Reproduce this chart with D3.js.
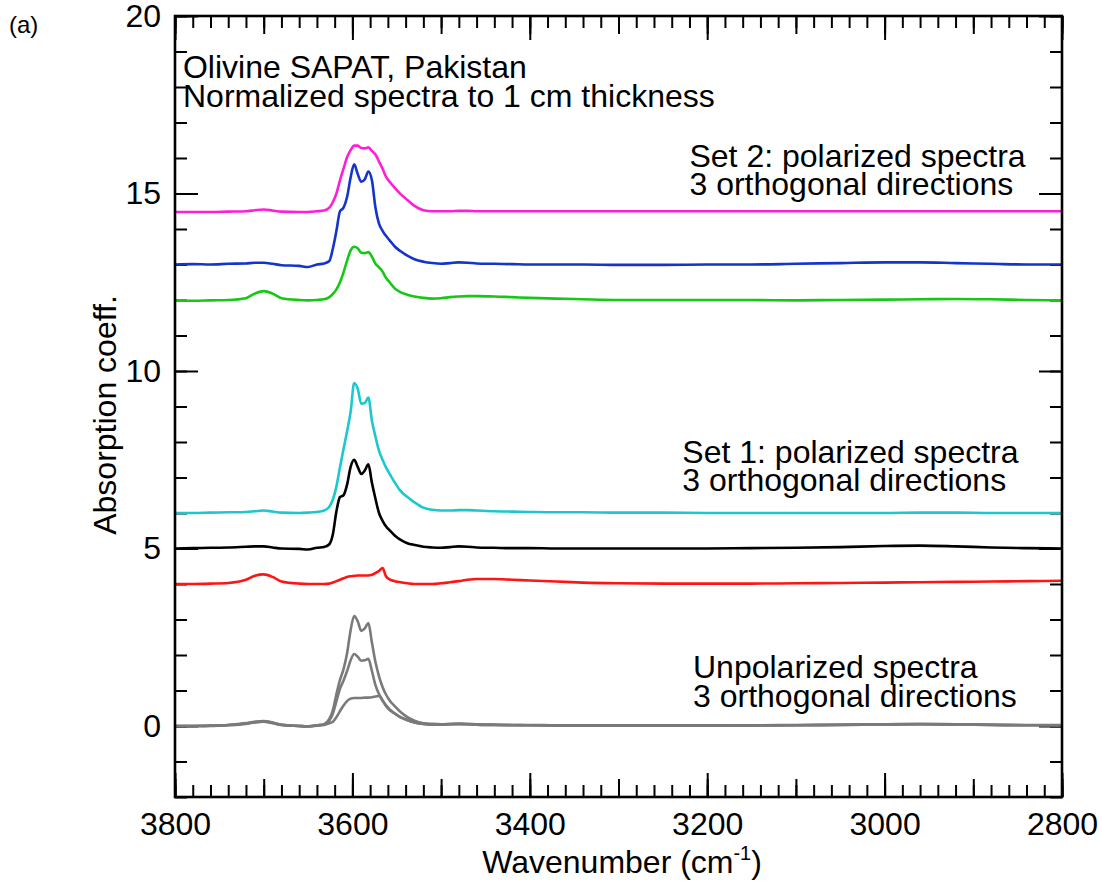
<!DOCTYPE html>
<html>
<head>
<meta charset="utf-8">
<script src="https://cdn.jsdelivr.net/npm/d3@7"></script>
<style>
  html, body { margin: 0; padding: 0; background: #fff; }
  svg { display: block; }
  text { font-family: "Liberation Sans", Arial, Helvetica, sans-serif; fill: #000; }
</style>
</head>
<body>
<svg id="chart" width="1102" height="885"></svg>
<script>
// Wavenumber grid (cm^-1), shared by all spectra
const wavenumber = [3800, 3780, 3760, 3740, 3720, 3710, 3700, 3690, 3680, 3660,
  3650, 3640, 3632, 3626, 3622, 3618, 3614, 3610, 3606, 3602,
  3598, 3594, 3590, 3586, 3582, 3578, 3574, 3570, 3566, 3562,
  3558, 3552, 3546, 3538, 3530, 3520, 3510, 3500, 3490, 3480,
  3470, 3460, 3440, 3420, 3400, 3370, 3340, 3300, 3250, 3200,
  3150, 3100, 3050, 3000, 2960, 2920, 2880, 2840, 2800];

// Unpolarized spectra, 3 orthogonal directions
const unpolA = [0.00, 0.00, 0.01, 0.03, 0.08, 0.12, 0.14, 0.10, 0.04, 0.00,
  -0.01, 0.02, 0.05, 0.20, 0.45, 0.90, 1.30, 1.60, 2.05, 2.70,
  3.10, 2.95, 2.68, 2.75, 2.90, 2.35, 1.80, 1.40, 1.10, 0.88,
  0.72, 0.55, 0.40, 0.25, 0.15, 0.08, 0.06, 0.05, 0.06, 0.07,
  0.06, 0.05, 0.04, 0.03, 0.03, 0.02, 0.02, 0.02, 0.02, 0.02,
  0.02, 0.03, 0.04, 0.05, 0.06, 0.05, 0.04, 0.03, 0.03];
const unpolB = [0.00, 0.00, 0.01, 0.03, 0.07, 0.11, 0.13, 0.09, 0.03, 0.00,
  -0.01, 0.02, 0.04, 0.15, 0.35, 0.70, 1.05, 1.28, 1.55, 1.85,
  2.03, 1.95, 1.84, 1.85, 1.89, 1.55, 1.15, 0.90, 0.72, 0.58,
  0.47, 0.35, 0.25, 0.16, 0.10, 0.06, 0.04, 0.04, 0.05, 0.06,
  0.05, 0.04, 0.03, 0.03, 0.02, 0.02, 0.01, 0.01, 0.01, 0.01,
  0.02, 0.02, 0.03, 0.04, 0.05, 0.04, 0.03, 0.02, 0.02];
const unpolC = [0.00, 0.00, 0.00, 0.02, 0.06, 0.10, 0.12, 0.08, 0.03, 0.00,
  -0.01, 0.01, 0.03, 0.08, 0.12, 0.25, 0.42, 0.58, 0.70, 0.77,
  0.79, 0.79, 0.79, 0.80, 0.80, 0.81, 0.83, 0.85, 0.72, 0.56,
  0.45, 0.34, 0.25, 0.17, 0.10, 0.06, 0.04, 0.04, 0.05, 0.05,
  0.05, 0.04, 0.03, 0.02, 0.02, 0.01, 0.01, 0.01, 0.01, 0.01,
  0.01, 0.02, 0.03, 0.04, 0.05, 0.04, 0.03, 0.02, 0.02];

// Set 1: polarized spectra (offset to 4, 5 and 6)
const set1Red = [4.00, 4.00, 4.01, 4.03, 4.12, 4.23, 4.27, 4.20, 4.07, 4.01,
  4.00, 4.00, 4.00, 4.01, 4.04, 4.08, 4.12, 4.16, 4.20, 4.22,
  4.23, 4.24, 4.24, 4.24, 4.24, 4.26, 4.31, 4.37, 4.45, 4.21,
  4.13, 4.08, 4.05, 4.02, 4.00, 4.00, 4.00, 4.02, 4.05, 4.08,
  4.12, 4.14, 4.14, 4.12, 4.10, 4.07, 4.04, 4.02, 4.01, 4.01,
  4.01, 4.02, 4.03, 4.04, 4.05, 4.06, 4.07, 4.08, 4.09];
const set1Black = [5.00, 5.01, 5.02, 5.03, 5.05, 5.06, 5.06, 5.03, 5.00, 4.99,
  4.97, 5.02, 5.04, 5.12, 5.40, 6.05, 6.45, 6.50, 6.80, 7.30,
  7.50, 7.30, 7.10, 7.20, 7.37, 6.85, 6.40, 6.00, 5.78, 5.62,
  5.51, 5.36, 5.25, 5.15, 5.10, 5.05, 5.03, 5.02, 5.04, 5.06,
  5.05, 5.03, 5.02, 5.01, 5.01, 5.00, 5.00, 5.00, 5.00, 5.00,
  5.01, 5.02, 5.04, 5.07, 5.08, 5.06, 5.03, 5.01, 5.00];
const set1Cyan = [6.00, 6.00, 6.01, 6.02, 6.03, 6.05, 6.07, 6.04, 6.01, 6.00,
  6.01, 6.03, 6.07, 6.18, 6.38, 6.75, 7.29, 7.80, 8.30, 8.85,
  9.66, 9.50, 9.08, 9.10, 9.25, 8.60, 8.15, 7.75, 7.50, 7.28,
  7.10, 6.85, 6.63, 6.45, 6.30, 6.15, 6.09, 6.07, 6.07, 6.08,
  6.08, 6.07, 6.05, 6.04, 6.03, 6.02, 6.02, 6.01, 6.01, 6.00,
  6.00, 6.00, 6.00, 6.00, 6.01, 6.01, 6.00, 6.00, 6.00];

// Set 2: polarized spectra (offset to 12, 13 and 14.5)
const set2Green = [11.98, 11.98, 11.99, 12.00, 12.05, 12.18, 12.25, 12.18, 12.05, 12.00,
  11.99, 12.00, 12.02, 12.08, 12.17, 12.30, 12.50, 12.78, 13.11, 13.40,
  13.50, 13.46, 13.33, 13.32, 13.35, 13.22, 13.02, 12.92, 12.80, 12.62,
  12.50, 12.32, 12.22, 12.15, 12.10, 12.06, 12.04, 12.05, 12.08, 12.10,
  12.11, 12.11, 12.10, 12.08, 12.06, 12.04, 12.02, 12.00, 12.00, 12.00,
  12.00, 11.99, 12.00, 12.01, 12.02, 12.03, 12.02, 12.00, 11.99];
const set2Blue = [13.00, 13.01, 13.00, 13.02, 13.03, 13.05, 13.05, 13.02, 12.98, 12.96,
  12.93, 13.00, 13.03, 13.10, 13.45, 13.95, 14.50, 14.60, 14.90, 15.45,
  15.82, 15.55, 15.33, 15.40, 15.62, 15.37, 14.60, 14.15, 13.95, 13.80,
  13.68, 13.50, 13.38, 13.25, 13.15, 13.08, 13.04, 13.02, 13.04, 13.06,
  13.05, 13.03, 13.02, 13.01, 13.00, 13.00, 13.00, 12.99, 12.99, 13.00,
  13.00, 13.02, 13.04, 13.06, 13.06, 13.04, 13.02, 13.00, 13.00];
const set2Magenta = [14.48, 14.48, 14.48, 14.49, 14.50, 14.53, 14.55, 14.52, 14.49, 14.48,
  14.48, 14.50, 14.52, 14.60, 14.76, 15.00, 15.37, 15.70, 16.02, 16.22,
  16.35, 16.35, 16.28, 16.27, 16.30, 16.20, 16.10, 15.90, 15.70, 15.47,
  15.33, 15.15, 14.99, 14.82, 14.65, 14.53, 14.50, 14.50, 14.50, 14.51,
  14.51, 14.50, 14.50, 14.50, 14.50, 14.50, 14.50, 14.50, 14.50, 14.50,
  14.50, 14.50, 14.50, 14.50, 14.50, 14.50, 14.50, 14.50, 14.50];

// Axis ticks
const xMajorTicks = [3800, 3600, 3400, 3200, 3000, 2800];
const yMajorTicks = [0, 5, 10, 15, 20];

// Annotation text blocks, anchored in data coordinates (wavenumber, absorption)
const notes = [
  { lines: ["Olivine SAPAT, Pakistan", "Normalized spectra to 1 cm thickness"], wn: 3791, v: 18.25 },
  { lines: ["Set 2: polarized spectra", "3 orthogonal directions"], wn: 3220, v: 15.75 },
  { lines: ["Set 1: polarized spectra", "3 orthogonal directions"], wn: 3228, v: 7.41 },
  { lines: ["Unpolarized spectra", "3 orthogonal directions"], wn: 3216, v: 1.35 }
];

const series = [
  { values: unpolA, color: "#7a7a7a" },
  { values: unpolB, color: "#7a7a7a" },
  { values: unpolC, color: "#7a7a7a" },
  { values: set1Red, color: "#ff1414" },
  { values: set1Black, color: "#000000" },
  { values: set1Cyan, color: "#1cc8cc" },
  { values: set2Green, color: "#14c814" },
  { values: set2Blue, color: "#1434cc" },
  { values: set2Magenta, color: "#ff1ed6" }
];

const plotLeft = 175, plotRight = 1062, plotTop = 16, plotBottom = 797;
const svg = d3.select("#chart");

const x = d3.scaleLinear().domain([3800, 2800]).range([plotLeft, plotRight]);
const y = d3.scaleLinear().domain([-2, 20]).range([plotBottom, plotTop]);

const fontSize = 32;

// Tick sets: minor every 20, mid every 100, major every 200 on x; minor 1, major 5 on y
const xMinor = d3.range(3800, 2799, -20);
const xMid = d3.range(3800, 2799, -100);
const yMinor = d3.range(-2, 20.01, 1);

function styleAxis(g) {
  g.select(".domain").remove();
  g.selectAll(".tick line").attr("stroke", "#000").attr("stroke-width", 2);
  g.selectAll(".tick text").attr("font-size", fontSize)
    .style("font-family", "'Liberation Sans', Arial, Helvetica, sans-serif").attr("fill", "#000");
}

// Bottom axis
svg.append("g").attr("transform", `translate(0,${plotBottom})`)
  .call(d3.axisBottom(x).tickValues(xMinor).tickSize(-12).tickFormat("")).call(styleAxis);
svg.append("g").attr("transform", `translate(0,${plotBottom})`)
  .call(d3.axisBottom(x).tickValues(xMid).tickSize(-18).tickFormat("")).call(styleAxis);
svg.append("g").attr("transform", `translate(0,${plotBottom})`)
  .call(d3.axisBottom(x).tickValues(xMajorTicks).tickSize(-24).tickPadding(15).tickFormat(d3.format("d")))
  .call(styleAxis);

// Top axis (mirrored ticks)
svg.append("g").attr("transform", `translate(0,${plotTop})`)
  .call(d3.axisTop(x).tickValues(xMinor).tickSize(-12).tickFormat("")).call(styleAxis);
svg.append("g").attr("transform", `translate(0,${plotTop})`)
  .call(d3.axisTop(x).tickValues(xMid).tickSize(-18).tickFormat("")).call(styleAxis);
svg.append("g").attr("transform", `translate(0,${plotTop})`)
  .call(d3.axisTop(x).tickValues(xMajorTicks).tickSize(-24).tickFormat("")).call(styleAxis);

// Left axis
svg.append("g").attr("transform", `translate(${plotLeft},0)`)
  .call(d3.axisLeft(y).tickValues(yMinor).tickSize(-12).tickFormat("")).call(styleAxis);
svg.append("g").attr("transform", `translate(${plotLeft},0)`)
  .call(d3.axisLeft(y).tickValues(yMajorTicks).tickSize(-23).tickPadding(14).tickFormat(d3.format("d")))
  .call(styleAxis);

// Right axis (mirrored ticks)
svg.append("g").attr("transform", `translate(${plotRight},0)`)
  .call(d3.axisRight(y).tickValues(yMinor).tickSize(-12).tickFormat("")).call(styleAxis);
svg.append("g").attr("transform", `translate(${plotRight},0)`)
  .call(d3.axisRight(y).tickValues(yMajorTicks).tickSize(-23).tickFormat("")).call(styleAxis);

// Clip spectra to the plot frame
svg.append("defs").append("clipPath").attr("id", "plotClip")
  .append("rect").attr("x", plotLeft).attr("y", plotTop)
  .attr("width", plotRight - plotLeft).attr("height", plotBottom - plotTop);

// Spectra, drawn over the tick marks
const line = d3.line()
  .x((d, i) => x(wavenumber[i]))
  .y(d => y(d))
  .curve(d3.curveMonotoneX);

svg.append("g").attr("clip-path", "url(#plotClip)")
  .selectAll("path").data(series).join("path")
  .attr("d", s => line(s.values))
  .attr("fill", "none")
  .attr("stroke", s => s.color)
  .attr("stroke-width", 2.6)
  .attr("stroke-linejoin", "round");

// Frame
svg.append("rect")
  .attr("x", plotLeft).attr("y", plotTop)
  .attr("width", plotRight - plotLeft).attr("height", plotBottom - plotTop)
  .attr("fill", "none").attr("stroke", "#000").attr("stroke-width", 2.6);

// Annotations
notes.forEach(n => {
  const t = svg.append("text")
    .attr("x", x(n.wn)).attr("y", y(n.v))
    .attr("font-size", fontSize);
  n.lines.forEach((s, i) => {
    t.append("tspan").attr("x", x(n.wn)).attr("dy", i === 0 ? 0 : 28.5).text(s);
  });
});

// Axis titles
const xTitle = svg.append("text")
  .attr("x", 622).attr("y", 873)
  .attr("text-anchor", "middle").attr("font-size", fontSize);
xTitle.append("tspan").text("Wavenumber (cm");
xTitle.append("tspan").attr("font-size", fontSize * 0.62).attr("dy", -13).text("-1");
xTitle.append("tspan").attr("dy", 13).text(")");

svg.append("text")
  .attr("transform", `translate(116,415) rotate(-90)`)
  .attr("text-anchor", "middle").attr("font-size", fontSize)
  .text("Absorption coeff.");

// Panel letter
svg.append("text").attr("x", 9).attr("y", 33).attr("font-size", 24).text("(a)");
</script>
</body>
</html>
